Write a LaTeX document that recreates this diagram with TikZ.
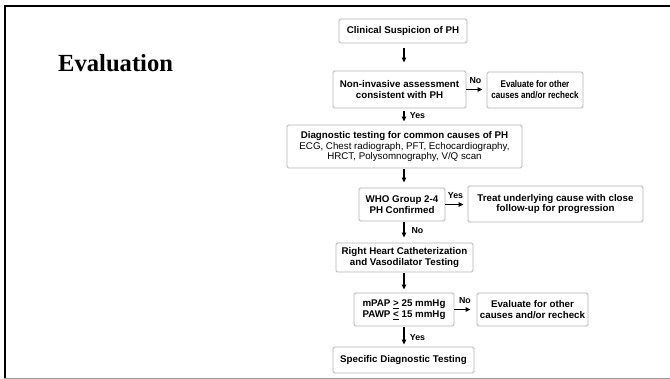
\documentclass[tikz,border=0pt]{standalone}
\usepackage{fontspec}
\usepackage{graphicx}
\setmainfont{Liberation Sans}
\newfontfamily\titlefont{Liberation Serif}
\usetikzlibrary{arrows.meta}
\definecolor{boxgray}{HTML}{B4B4B4}
\newcommand{\narrowtxt}[1]{\scalebox{0.83}[1]{#1}}
\tikzset{
  flowbox/.style={draw=boxgray, line width=0.9pt, rounded corners=1.5pt, fill=white,
    align=center, inner sep=0pt, font=\fontsize{9.75}{10.9}\selectfont\bfseries},
  flowarrow/.style={-{Triangle[length=5pt,width=4.5pt]}, line width=1.1pt, black},
  lbl/.style={font=\fontsize{8.8}{10}\selectfont\bfseries, inner sep=0pt}
}
\begin{document}
\begin{tikzpicture}[x=1pt,y=-1pt]
\useasboundingbox (0,0) rectangle (670,379);
% frame
\draw[line width=2pt] (5,6) -- (670,6);
\draw[line width=2pt] (5,5) -- (5,378);
\draw[line width=1.3pt, gray!80] (4,378.2) -- (670,378.2);
% title
\node[anchor=base west, inner sep=0pt, font=\titlefont\fontsize{24.6}{28}\selectfont\bfseries] (title) at (58,72) {Evaluation};
% boxes
\node[flowbox, minimum width=128pt, minimum height=24pt] (clin) at (403,31) {Clinical Suspicion of PH};
\node[flowbox, minimum width=133pt, minimum height=37pt] (noninv) at (399.5,89.5) {Non-invasive assessment\\consistent with PH};
\node[flowbox, minimum width=96pt, minimum height=36pt] (eval1) at (535,90) {\narrowtxt{Evaluate for other}\\\narrowtxt{causes and/or recheck}};
\node[flowbox, minimum width=235pt, minimum height=43pt] (diag) at (404.5,146.5) {Diagnostic testing for common causes of PH\\\mdseries ECG, Chest radiograph, PFT, Echocardiography,\\\mdseries HRCT, Polysomnography, V/Q scan};
\node[flowbox, minimum width=86pt, minimum height=33pt] (who) at (402,204.5) {WHO Group 2-4\\PH Confirmed};
\node[flowbox, minimum width=175pt, minimum height=36pt] (treat) at (555.5,204) {Treat underlying cause with close\\follow-up for progression};
\node[flowbox, minimum width=137pt, minimum height=29pt] (rhc) at (404.5,257.5) {Right Heart Catheterization\\and Vasodilator Testing};
\node[flowbox, minimum width=100pt, minimum height=33pt] (mpap) at (404,309.5) {mPAP \underline{>} 25 mmHg\\PAWP \underline{<} 15 mmHg};
\node[flowbox, minimum width=111pt, minimum height=33pt] (eval2) at (532.5,309.5) {Evaluate for other\\causes and/or recheck};
\node[flowbox, minimum width=141pt, minimum height=26pt] (spec) at (403.5,360) {Specific Diagnostic Testing};
% arrows
\draw[flowarrow, shorten <=5pt, shorten >=8pt] (clin.south -| 404,0) -- (noninv.north -| 404,0);
\draw[flowarrow, shorten <=0pt, shorten >=4pt] (noninv.east) -- (noninv.east -| eval1.west);
\draw[flowarrow, shorten <=3pt, shorten >=3pt] (noninv.south -| 404,0) -- (diag.north -| 404,0);
\draw[flowarrow, shorten <=1pt, shorten >=5pt] (diag.south -| 404,0) -- (who.north -| 404,0);
\draw[flowarrow, shorten <=0pt, shorten >=4pt] (who.east) -- (who.east -| treat.west);
\draw[flowarrow, shorten <=1pt, shorten >=5pt] (who.south -| 404,0) -- (rhc.north -| 404,0);
\draw[flowarrow, shorten <=1pt, shorten >=3pt] (rhc.south -| 404,0) -- (mpap.north -| 404,0);
\draw[flowarrow, shorten <=0pt, shorten >=6pt] (mpap.east) -- (mpap.east -| eval2.west);
\draw[flowarrow, shorten <=1pt, shorten >=2pt] (mpap.south -| 404,0) -- (spec.north -| 404,0);
% labels
\node[lbl] (l1) at (475.5,81) {No};
\node[lbl] (l2) at (417.5,116) {Yes};
\node[lbl] (l3) at (455.5,196) {Yes};
\node[lbl] (l4) at (417.5,230.5) {No};
\node[lbl] (l5) at (465,301) {No};
\node[lbl] (l6) at (417.5,337.5) {Yes};
\end{tikzpicture}
\end{document}
